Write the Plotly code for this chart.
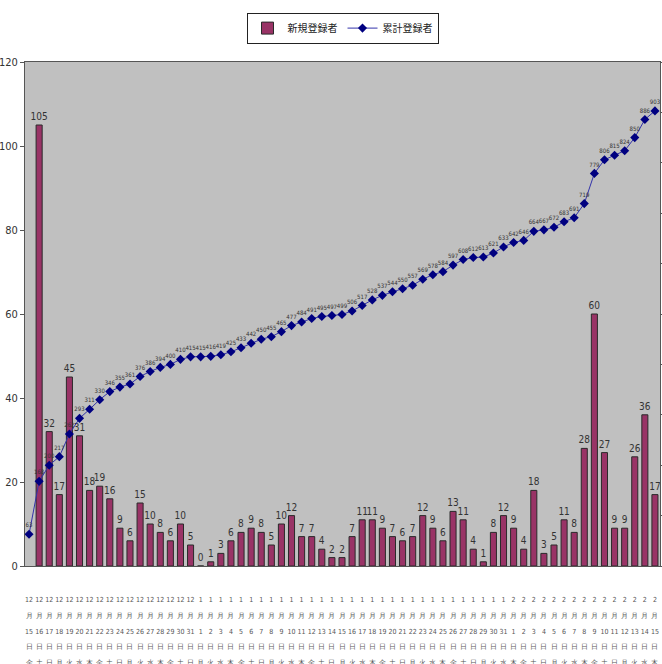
import plotly.graph_objects as go

# ---- data ----
months = ["12"] * 17 + ["1"] * 31 + ["2"] * 15
days = [15, 16, 17, 18, 19, 20, 21, 22, 23, 24, 25, 26, 27, 28, 29, 30, 31,
        1, 2, 3, 4, 5, 6, 7, 8, 9, 10, 11, 12, 13, 14, 15, 16, 17, 18, 19, 20,
        21, 22, 23, 24, 25, 26, 27, 28, 29, 30, 31,
        1, 2, 3, 4, 5, 6, 7, 8, 9, 10, 11, 12, 13, 14, 15]
weekdays = list("金土日月火水木金土日月火水木金土日月火水木金土日月火水木金土日月火水木"
                "金土日月火水木金土日月火水木金土日月火水木金土日月火水木")

new_reg = [None, 105, 32, 17, 45, 31, 18, 19, 16, 9, 6, 15, 10, 8, 6, 10, 5, 0, 1, 3,
           6, 8, 9, 8, 5, 10, 12, 7, 7, 4, 2, 2, 7, 11, 11, 9, 7, 6, 7, 12, 9, 6, 13,
           11, 4, 1, 8, 12, 9, 4, 18, 3, 5, 11, 8, 28, 60, 27, 9, 9, 26, 36, 17]
cum_reg = [63, 168, 200, 217, 262, 293, 311, 330, 346, 355, 361, 376, 386, 394, 400,
           410, 415, 415, 416, 419, 425, 433, 442, 450, 455, 465, 477, 484, 491, 495,
           497, 499, 506, 517, 528, 537, 544, 550, 557, 569, 578, 584, 597, 608, 612,
           613, 621, 633, 642, 646, 664, 667, 672, 683, 691, 719, 779, 806, 815, 824,
           850, 886, 903]

S = '<span style="font-size:7px">'
labels = [f"{S}{m}</span><br>{S}月</span><br>{S}{d}</span><br>{S}日</span><br>{S}{w}</span>"
          for m, d, w in zip(months, days, weekdays)]

COND = "DejaVu Sans Condensed, Liberation Sans Narrow, Liberation Sans, sans-serif"

fig = go.Figure()
fig.add_trace(go.Bar(
    x=labels, y=new_reg, name="新規登録者",
    marker=dict(color="#993366", line=dict(color="#2a2a2a", width=1)),
    text=[("" if v is None else str(v)) for v in new_reg],
    textposition="outside", textangle=0, constraintext="none",
    textfont=dict(size=10, color="#333333", family=COND),
    cliponaxis=False,
))
fig.add_trace(go.Scatter(
    x=labels, y=cum_reg, name="累計登録者", yaxis="y2",
    mode="lines+markers+text",
    line=dict(color="#3333aa", width=1),
    marker=dict(symbol="diamond", size=7, color="#000080"),
    text=[str(v) for v in cum_reg], textposition="top center",
    textfont=dict(size=6, color="#333333", family=COND),
    cliponaxis=False,
))

fig.update_layout(
    width=662, height=664,
    margin=dict(l=25, r=2, t=62, b=98),
    paper_bgcolor="white", plot_bgcolor="#c0c0c0",
    bargap=0.4,
    font=dict(family="Liberation Sans, Arial, sans-serif", color="#333333"),
    showlegend=True,
    legend=dict(orientation="h", x=0.5, xanchor="center", y=1.098, yanchor="top",
                bgcolor="white", bordercolor="#222222", borderwidth=1,
                font=dict(size=10, color="#222222", family="Noto Sans CJK JP"),
                itemwidth=30, tracegroupgap=0),
    xaxis=dict(type="category", range=[-0.4, 62.5], showgrid=False, automargin=False,
               showline=True, linecolor="#555555", ticks="", mirror=True,
               tickangle=0, dtick=1, tickmode="linear", ticklabelstandoff=21,
               tickfont=dict(size=12, color="#555555", family=COND)),
    yaxis=dict(range=[0, 120], dtick=20, showgrid=False, zeroline=False, automargin=False,
               showline=True, linecolor="#555555", ticks="outside", ticklen=4,
               tickcolor="#555555", mirror=False,
               tickfont=dict(size=11, color="#333333", family=COND)),
    yaxis2=dict(overlaying="y", side="right", range=[0, 1000], dtick=100,
                showgrid=False, zeroline=False, showticklabels=False,
                showline=True, linecolor="#555555", ticks="outside", ticklen=3,
                tickcolor="#555555", automargin=False),
)

fig.write_html("out.html")
